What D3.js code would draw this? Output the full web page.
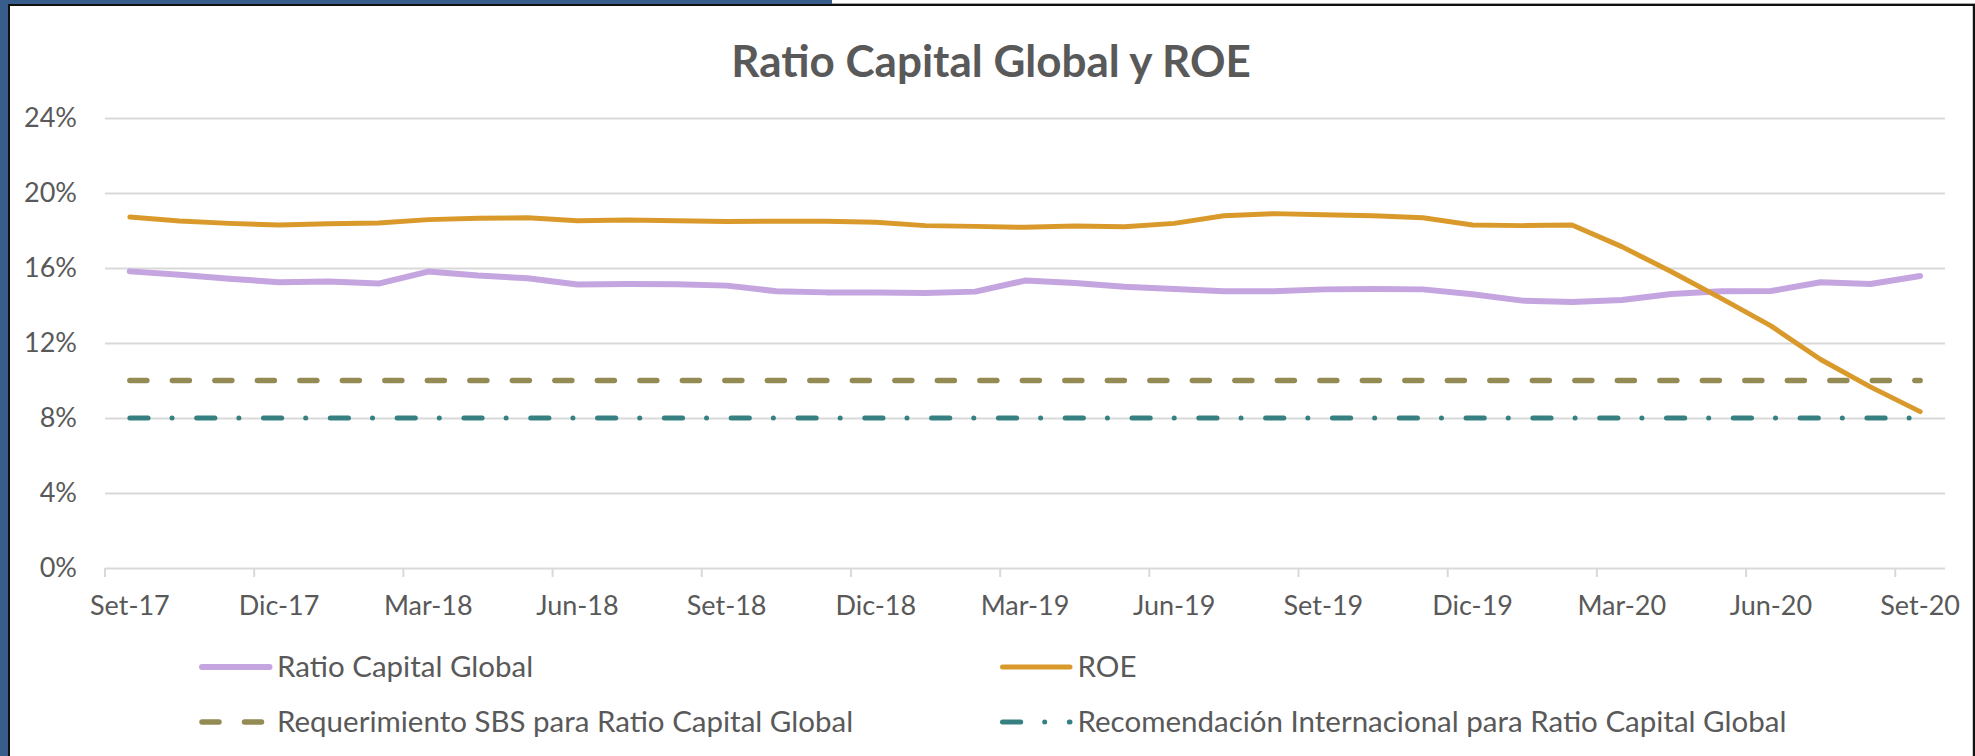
<!DOCTYPE html>
<html>
<head>
<meta charset="utf-8">
<script src="https://cdn.jsdelivr.net/npm/d3@7"></script>
<style>
  body { margin: 0; background: #ffffff; }
  text { font-family: "Lato", "Open Sans", sans-serif; fill: #595959; }
</style>
</head>
<body>
<script>
// Monthly categories, Set-17 .. Set-20
var months = ["Set-17", "Oct-17", "Nov-17", "Dic-17", "Ene-18", "Feb-18", "Mar-18", "Abr-18", "May-18",
  "Jun-18", "Jul-18", "Ago-18", "Set-18", "Oct-18", "Nov-18", "Dic-18", "Ene-19", "Feb-19", "Mar-19",
  "Abr-19", "May-19", "Jun-19", "Jul-19", "Ago-19", "Set-19", "Oct-19", "Nov-19", "Dic-19", "Ene-20",
  "Feb-20", "Mar-20", "Abr-20", "May-20", "Jun-20", "Jul-20", "Ago-20", "Set-20"];

var ratioCapital = [15.82, 15.64, 15.43, 15.24, 15.28, 15.17, 15.81, 15.60, 15.45, 15.12, 15.15, 15.13,
  15.06, 14.76, 14.70, 14.70, 14.67, 14.74, 15.33, 15.20, 15.00, 14.88, 14.76, 14.76, 14.86, 14.88,
  14.86, 14.60, 14.26, 14.19, 14.29, 14.61, 14.76, 14.77, 15.24, 15.15, 15.57];

var roe = [18.72, 18.51, 18.38, 18.29, 18.36, 18.40, 18.58, 18.65, 18.68, 18.52, 18.56, 18.52,
  18.48, 18.49, 18.49, 18.44, 18.26, 18.22, 18.17, 18.24, 18.20, 18.38, 18.79, 18.90, 18.84, 18.79,
  18.68, 18.29, 18.26, 18.29, 17.14, 15.80, 14.38, 12.91, 11.12, 9.66, 8.34];

var requerimientoSBS = [10, 10, 10, 10, 10, 10, 10, 10, 10, 10, 10, 10, 10, 10, 10, 10, 10, 10, 10,
  10, 10, 10, 10, 10, 10, 10, 10, 10, 10, 10, 10, 10, 10, 10, 10, 10, 10];

var recomendacion = [8, 8, 8, 8, 8, 8, 8, 8, 8, 8, 8, 8, 8, 8, 8, 8, 8, 8, 8,
  8, 8, 8, 8, 8, 8, 8, 8, 8, 8, 8, 8, 8, 8, 8, 8, 8, 8];

var seriesNames = ["Ratio Capital Global", "ROE", "Requerimiento SBS para Ratio Capital Global",
  "Recomendación Internacional para Ratio Capital Global"];

var yTicks = [0, 4, 8, 12, 16, 20, 24];

var width = 1975, height = 756;

var svg = d3.select("body").append("svg")
    .attr("width", width)
    .attr("height", height);

// frame around the chart (blue window edge + dark border)
svg.append("rect").attr("x", 0).attr("y", 0).attr("width", 8).attr("height", height).style("fill", "#395d8b");
svg.append("rect").attr("x", 0).attr("y", 0).attr("width", 832).attr("height", 4).style("fill", "#395d8b");
svg.append("line").attr("x1", 832).attr("y1", 3.5).attr("x2", width).attr("y2", 3.5)
    .style("stroke", "#a6a6a6").style("stroke-width", 1);
svg.append("line").attr("x1", 8).attr("y1", 5).attr("x2", width).attr("y2", 5)
    .style("stroke", "#111").style("stroke-width", 2);
svg.append("line").attr("x1", 9).attr("y1", 4).attr("x2", 9).attr("y2", height)
    .style("stroke", "#111").style("stroke-width", 2);
svg.append("line").attr("x1", 1974).attr("y1", 4).attr("x2", 1974).attr("y2", height)
    .style("stroke", "#111").style("stroke-width", 2.4);

var x = d3.scaleBand()
    .domain(months)
    .range([105, 1945]);

var y = d3.scaleLinear()
    .domain([0, 24])
    .range([568, 118]);

// y axis with gridlines
var yAxis = svg.append("g")
    .attr("transform", "translate(105,0)")
    .call(d3.axisLeft(y).tickValues(yTicks).tickSize(-1840).tickPadding(28)
        .tickFormat(function(d) { return d + "%"; }));
yAxis.select(".domain").remove();
yAxis.selectAll(".tick line").style("stroke", "#d9d9d9").style("stroke-width", 2);
yAxis.selectAll(".tick text")
    .style("font-size", "27px")
    .style("fill", "#595959")
    .style("font-family", "Lato, 'Open Sans', sans-serif");

// x axis labels (every third month)
var shown = months.filter(function(d, i) { return i % 3 === 0; });

var xAxis = svg.append("g")
    .attr("transform", "translate(0,568)")
    .call(d3.axisBottom(x).tickValues(shown).tickSize(0));
xAxis.select(".domain").remove();
xAxis.selectAll(".tick text")
    .attr("y", 47)
    .attr("dy", 0)
    .style("font-size", "27px")
    .style("fill", "#595959")
    .style("font-family", "Lato, 'Open Sans', sans-serif");

// tick marks sit on the category boundaries
svg.selectAll(".x-tick")
    .data(shown)
    .enter().append("line")
    .attr("class", "x-tick")
    .attr("x1", function(d) { return x(d); })
    .attr("x2", function(d) { return x(d); })
    .attr("y1", 568)
    .attr("y2", 577)
    .style("stroke", "#d9d9d9")
    .style("stroke-width", 2);

var line = d3.line()
    .x(function(d, i) { return x(months[i]) + x.bandwidth() / 2; })
    .y(function(d) { return y(d); });

var styles = [
    { color: "#c5a5df", w: 6, dash: null },
    { color: "#da9a2b", w: 5, dash: null },
    { color: "#948a54", w: 5.5, dash: "17 25.5" },
    { color: "#368081", w: 5, dash: "18.2 24 0.01 24.6" }
];

var allSeries = [ratioCapital, roe, requerimientoSBS, recomendacion];

allSeries.forEach(function(values, k) {
    svg.append("path")
        .datum(values)
        .attr("d", line)
        .style("fill", "none")
        .style("stroke", styles[k].color)
        .style("stroke-width", styles[k].w)
        .style("stroke-linecap", "round")
        .style("stroke-linejoin", "round")
        .style("stroke-dasharray", styles[k].dash);
});

// legend: two columns, two rows
var legendX = [202, 1002.5];
var legendY = [667, 722];

var legend = svg.selectAll(".legend-item")
    .data(seriesNames)
    .enter().append("g")
    .attr("class", "legend-item")
    .attr("transform", function(d, i) {
        return "translate(" + legendX[i % 2] + "," + legendY[Math.floor(i / 2)] + ")";
    });

legend.append("line")
    .attr("x1", 0)
    .attr("x2", 67.5)
    .attr("y1", 0)
    .attr("y2", 0)
    .style("stroke", function(d, i) { return styles[i].color; })
    .style("stroke-width", function(d, i) { return styles[i].w; })
    .style("stroke-linecap", "round")
    .style("stroke-dasharray", function(d, i) { return styles[i].dash; });

legend.append("text")
    .attr("x", 75)
    .attr("y", 10)
    .style("font-size", "29.5px")
    .text(function(d) { return d; });

// title
svg.append("text")
    .attr("x", 991)
    .attr("y", 77)
    .attr("text-anchor", "middle")
    .style("font-size", "44px")
    .style("font-weight", "bold")
    .text("Ratio Capital Global y ROE");
</script>
</body>
</html>
